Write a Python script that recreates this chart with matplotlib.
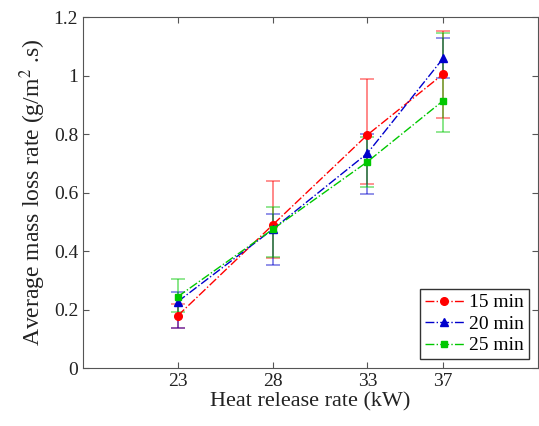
import matplotlib
matplotlib.use("Agg")
import matplotlib.pyplot as plt

hrr = [23, 28, 33, 37]

# mean mass loss rate and error bar ends (lower, upper) per duration
mlr_15 = [0.179, 0.489, 0.797, 1.005]
lo_15 = [0.138, 0.375, 0.628, 0.855]
hi_15 = [0.220, 0.639, 0.988, 1.152]

mlr_20 = [0.227, 0.474, 0.734, 1.059]
lo_20 = [0.138, 0.352, 0.595, 0.990]
hi_20 = [0.261, 0.525, 0.800, 1.127]

mlr_25 = [0.244, 0.474, 0.705, 0.914]
lo_25 = [0.192, 0.381, 0.620, 0.808]
hi_25 = [0.304, 0.551, 0.790, 1.144]

SERIES = [
    ("15 min", mlr_15, lo_15, hi_15, "#ff0000", "o", 5.5),
    ("20 min", mlr_20, lo_20, hi_20, "#0000cc", "^", 6.0),
    ("25 min", mlr_25, lo_25, hi_25, "#00c800", "s", 5.0),
]

plt.rcParams["font.family"] = ["Liberation Serif", "DejaVu Serif"]
plt.rcParams["mathtext.fontset"] = "stix"

fig = plt.figure(figsize=(5.39, 4.26), dpi=100)
ax = fig.add_axes([0.154, 0.136, 0.844, 0.824])

for label, y, lo, hi, col, mk, ms in SERIES:
    err = [[m - l for m, l in zip(y, lo)], [h - m for m, h in zip(y, hi)]]
    ax.errorbar(hrr, y, yerr=err, fmt="none", ecolor=col, alpha=0.5,
                elinewidth=1.3, capsize=5, capthick=1.2, zorder=2)
    ax.plot(hrr, y, linestyle="-.", color=col, marker=mk, markersize=ms,
            linewidth=1.0, label=label, zorder=3)

ax.set_xlim(18, 42)
ax.set_ylim(0, 1.2)
ax.set_xticks(hrr)
ax.set_yticks([0, 0.2, 0.4, 0.6, 0.8, 1.0, 1.2])
ax.set_yticklabels(["0", "0.2", "0.4", "0.6", "0.8", "1", "1.2"])
ax.tick_params(direction="in", top=True, right=True, labelsize=14,
               length=4, color="#555555", labelcolor="#222222")
for s in ax.spines.values():
    s.set_color("#555555")

ax.set_xlabel("Heat release rate (kW)", fontsize=16, color="#222222", labelpad=2)
ax.set_ylabel("Average mass loss rate (g/m$^2$ .s)", fontsize=17, color="#222222",
              labelpad=4)

leg = ax.legend(loc="lower right", fontsize=14, fancybox=False, framealpha=1,
                edgecolor="#333333", handlelength=2.0, handletextpad=0.3,
                borderpad=0.25, labelspacing=0.2, borderaxespad=0.45)
leg.get_frame().set_linewidth(1.0)

fig.savefig("out.png", dpi=100)
